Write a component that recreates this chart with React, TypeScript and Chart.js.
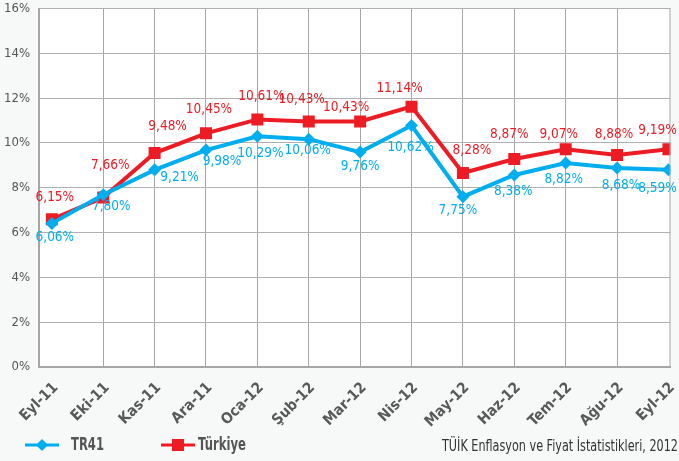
import { useEffect, useRef } from "react";
import { Chart, registerables } from "chart.js";

Chart.register(...registerables);

const categories = ["Eyl-11", "Eki-11", "Kas-11", "Ara-11", "Oca-12", "Şub-12", "Mar-12", "Nis-12", "May-12", "Haz-12", "Tem-12", "Ağu-12", "Eyl-12"];
const tr41Values = [6.41, 7.69, 8.8, 9.68, 10.3, 10.17, 9.59, 10.78, 7.6, 8.57, 9.1, 8.88, 8.8];
const turkiyeValues = [6.59, 7.56, 9.55, 10.43, 11.05, 10.96, 10.96, 11.62, 8.66, 9.28, 9.72, 9.46, 9.72];
const tr41Labels = ["6,06%", "7,80%", "9,21%", "9,98%", "10,29%", "10,06%", "9,76%", "10,62%", "7,75%", "8,38%", "8,82%", "8,68%", "8,59%"];
const turkiyeLabels = ["6,15%", "7,66%", "9,48%", "10,45%", "10,61%", "10,43%", "10,43%", "11,14%", "8,28%", "8,87%", "9,07%", "8,88%", "9,19%"];
const yTickValues = [0, 2, 4, 6, 8, 10, 12, 14, 16];
const seriesNames = ["TR41", "Türkiye"];
const sourceText = "TÜİK Enflasyon ve Fiyat İstatistikleri, 2012";

// label offsets (px) relative to each point, as placed in the original
const tr41LabelOffsets = [[3, 14], [8, 12], [25, 8], [16, 11], [3, 17], [-1, 11], [0, 14], [-1, 22], [-5, 14], [-1, 17], [-2, 16], [4, 17], [-11, 19]];
const turkiyeLabelOffsets = [[3, -22], [7, -32], [13, -27], [3, -24], [4, -23], [-7, -22], [-14, -14], [-12, -18], [9, -22], [-5, -25], [-7, -15], [-3, -21], [-11, -19]];

const BLUE = "#00AEEF";
const RED = "#ED1C24";
const NARROW = '"Liberation Sans Narrow", "DejaVu Sans Condensed", "Liberation Sans", sans-serif';

function condensedText(ctx: CanvasRenderingContext2D, text: string, x: number, y: number, targetWidth: number, align: "left" | "right") {
  const w = ctx.measureText(text).width;
  const s = Math.min(1, targetWidth / w);
  ctx.save();
  ctx.translate(x, y);
  ctx.scale(s, 1);
  ctx.textAlign = align;
  ctx.fillText(text, 0, 0);
  ctx.restore();
}

const decorPlugin = {
  id: "decor",
  beforeDraw(chart: any) {
    const { ctx, chartArea } = chart;
    ctx.save();
    ctx.fillStyle = "#f7f8f8";
    ctx.fillRect(0, 0, chart.width, chart.height);
    ctx.fillStyle = "#ffffff";
    ctx.fillRect(chartArea.left, chartArea.top, chartArea.right - chartArea.left, chartArea.bottom - chartArea.top);
    ctx.restore();
  },
  afterDatasetsDraw(chart: any) {
    const { ctx, chartArea } = chart;
    ctx.save();
    // right border
    ctx.strokeStyle = "#a6a6a6";
    ctx.lineWidth = 1;
    ctx.beginPath();
    ctx.moveTo(chartArea.right - 0.5, chartArea.top);
    ctx.lineTo(chartArea.right - 0.5, chartArea.bottom);
    ctx.stroke();

    ctx.font = "13.5px " + NARROW;
    ctx.textAlign = "center";
    ctx.textBaseline = "middle";
    const sets = [
      { labels: tr41Labels, offs: tr41LabelOffsets, color: BLUE },
      { labels: turkiyeLabels, offs: turkiyeLabelOffsets, color: RED },
    ];
    sets.forEach((s, di) => {
      const meta = chart.getDatasetMeta(di);
      ctx.fillStyle = s.color;
      meta.data.forEach((pt: any, i: number) => {
        ctx.fillText(s.labels[i], pt.x + s.offs[i][0], pt.y + s.offs[i][1]);
      });
    });

    // legend
    const ly = 445;
    ctx.lineWidth = 3;
    ctx.strokeStyle = BLUE;
    ctx.beginPath();
    ctx.moveTo(25, ly);
    ctx.lineTo(59, ly);
    ctx.stroke();
    ctx.fillStyle = BLUE;
    ctx.beginPath();
    ctx.moveTo(42, ly - 6);
    ctx.lineTo(48, ly);
    ctx.lineTo(42, ly + 6);
    ctx.lineTo(36, ly);
    ctx.closePath();
    ctx.fill();

    ctx.strokeStyle = RED;
    ctx.beginPath();
    ctx.moveTo(161, ly);
    ctx.lineTo(195, ly);
    ctx.stroke();
    ctx.fillStyle = RED;
    ctx.fillRect(172, ly - 6, 12, 12);

    ctx.fillStyle = "#555555";
    ctx.font = "bold 17px " + NARROW;
    condensedText(ctx, seriesNames[0], 71, ly + 1, 33, "left");
    condensedText(ctx, seriesNames[1], 198, ly + 1, 48, "left");

    ctx.font = "15px " + NARROW;
    ctx.fillStyle = "#333333";
    condensedText(ctx, sourceText, 678, 447, 236, "right");
    ctx.restore();
  },
};

export default function App() {
  const ref = useRef<HTMLCanvasElement>(null);
  useEffect(() => {
    document.body.style.margin = "0";
    const canvas = ref.current!;
    const chart = new Chart(canvas, {
      type: "line",
      data: {
        datasets: [
          {
            label: seriesNames[0],
            data: tr41Values.map((v, i) => ({ x: i, y: v })),
            borderColor: BLUE,
            backgroundColor: BLUE,
            borderWidth: 4,
            pointStyle: "rectRot",
            pointRadius: 6.5,
            pointBorderWidth: 0,
            tension: 0,
          },
          {
            label: seriesNames[1],
            data: turkiyeValues.map((v, i) => ({ x: i, y: v })),
            borderColor: RED,
            backgroundColor: RED,
            borderWidth: 4,
            pointStyle: "rect",
            pointRadius: 8.5,
            pointBorderWidth: 0,
            tension: 0,
          },
        ],
      },
      options: {
        responsive: false,
        animation: false,
        layout: { padding: { top: 5, right: 4, left: 0, bottom: 0 } },
        plugins: { legend: { display: false }, tooltip: { enabled: false } },
        scales: {
          x: {
            type: "linear",
            min: -0.25,
            max: 12.04,
            afterBuildTicks: (scale: any) => {
              scale.ticks = categories.map((_, i) => ({ value: i }));
            },
            afterFit: (scale: any) => {
              scale.height = 94;
              scale.paddingLeft = 0;
              scale.paddingRight = 0;
            },
            ticks: {
              autoSkip: false,
              minRotation: 45,
              maxRotation: 45,
              padding: 12,
              labelOffset: 4,
              color: "#595959",
              font: { family: NARROW, size: 15, weight: "bold" },
              callback: (v: any) => categories[v] ?? "",
            },
            grid: {
              drawTicks: false,
              color: (c: any) => (c.tick && (c.tick.value === 0 || c.tick.value === 12) ? "rgba(0,0,0,0)" : "#a6a6a6"),
              lineWidth: 1,
            },
            border: { color: "#a6a6a6", width: 2 },
          },
          y: {
            min: 0,
            max: 16,
            afterBuildTicks: (scale: any) => {
              scale.ticks = yTickValues.map((v) => ({ value: v }));
            },
            afterFit: (scale: any) => {
              scale.width = 39;
              scale.paddingTop = 0;
              scale.paddingBottom = 0;
            },
            ticks: {
              padding: 9,
              color: "#555555",
              font: { family: NARROW, size: 13 },
              callback: (v: any) => v + "%",
            },
            grid: { drawTicks: false, color: "#b0b0b0", lineWidth: 1 },
            border: { color: "#a6a6a6", width: 2 },
          },
        },
      },
      plugins: [decorPlugin],
    } as any);
    return () => chart.destroy();
  }, []);
  return (
    <div style={{ width: 679, height: 461 }}>
      <canvas ref={ref} width={679} height={461} style={{ display: "block" }} />
    </div>
  );
}
